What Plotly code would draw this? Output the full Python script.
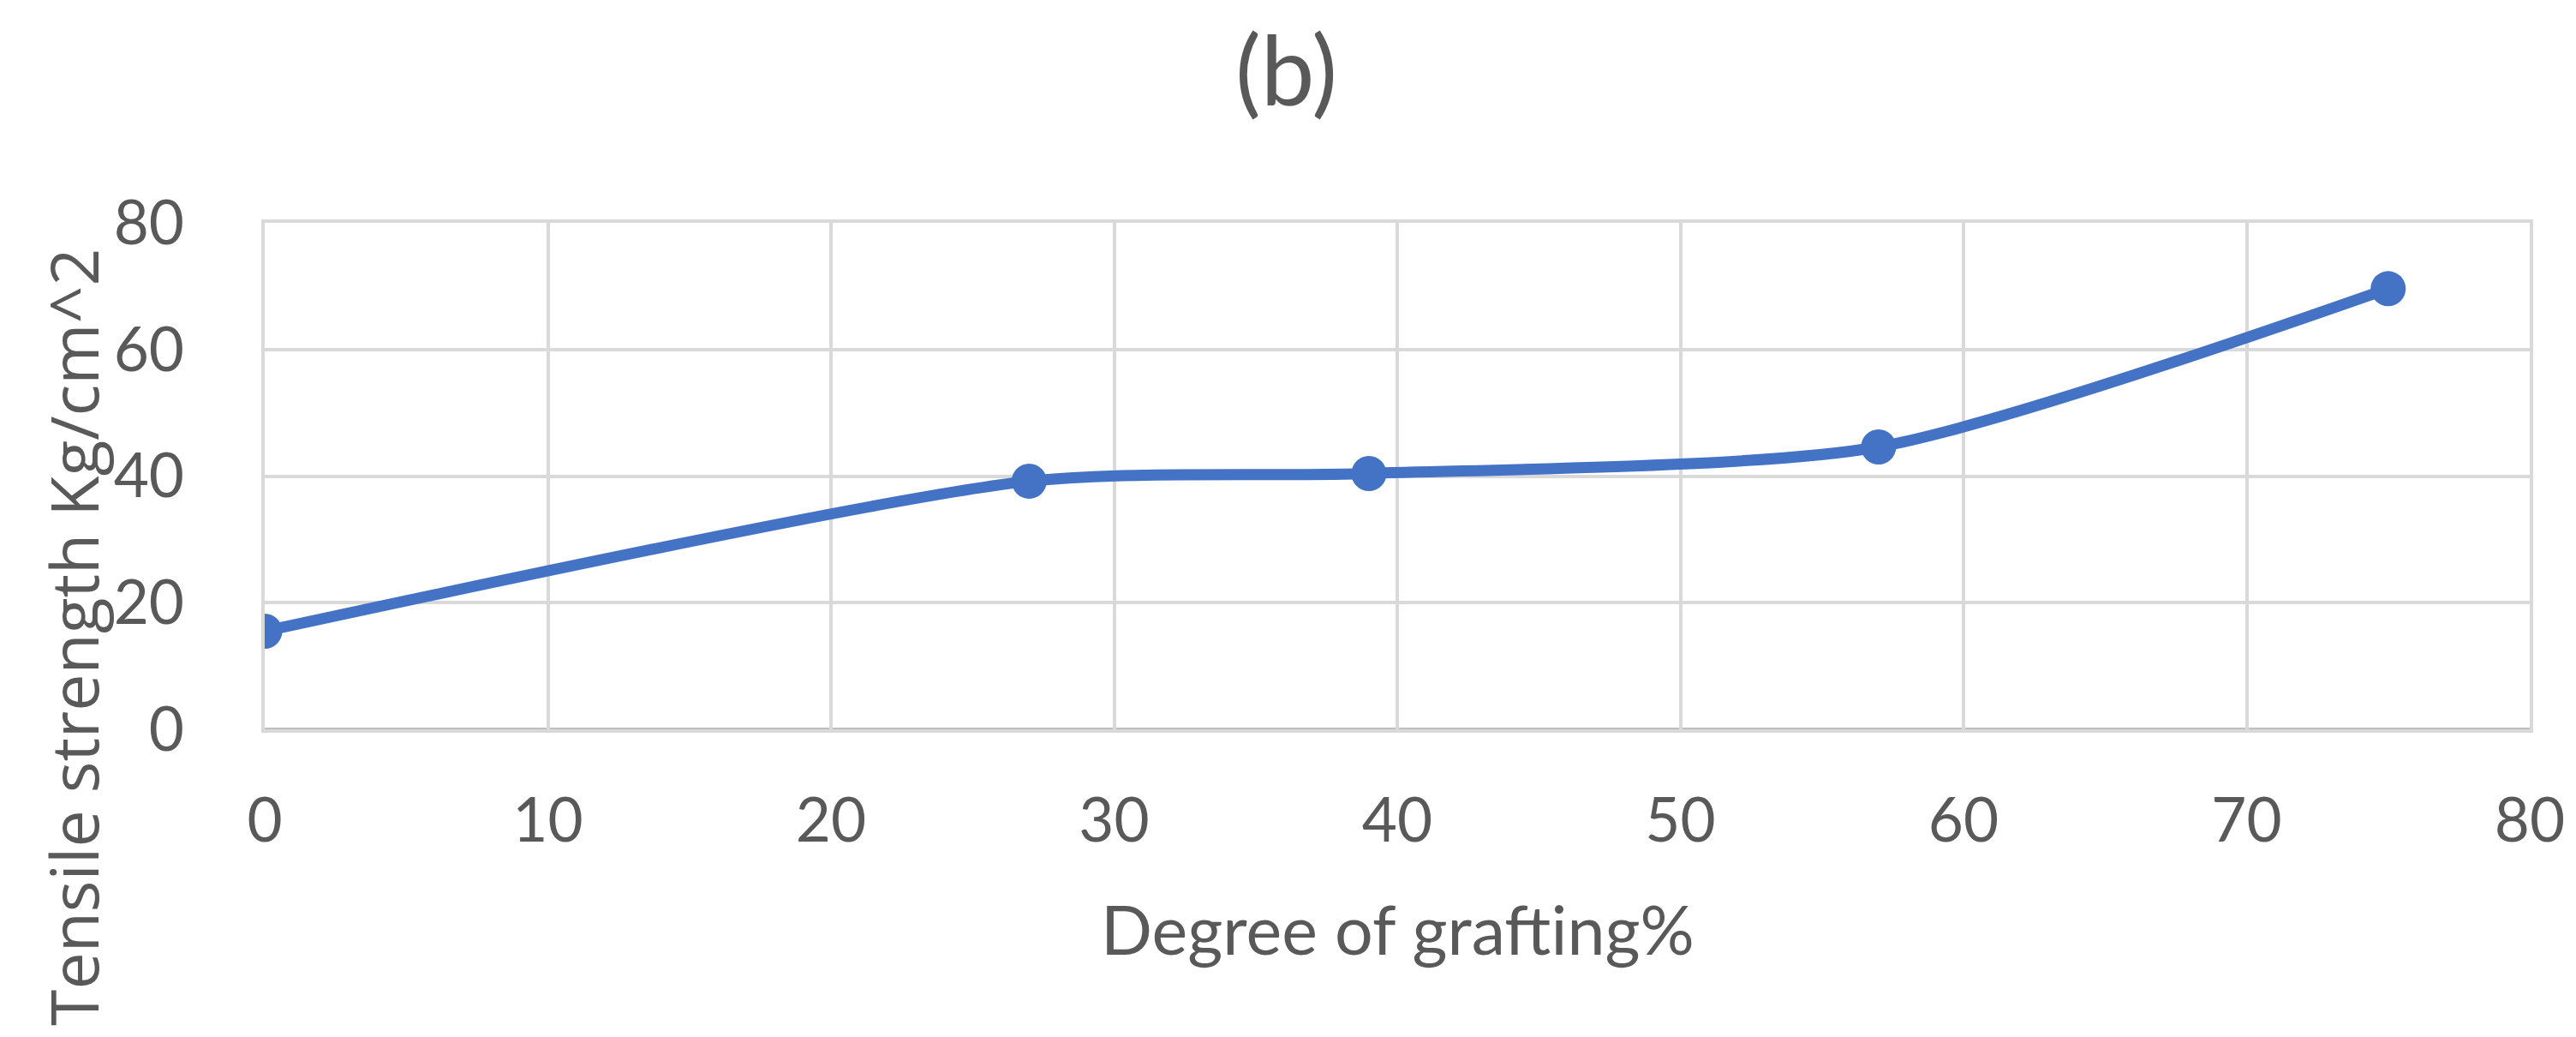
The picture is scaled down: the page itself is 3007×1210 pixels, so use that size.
import plotly.graph_objects as go

# data
grafting = [0, 27, 39, 57, 75]
tensile = [15.5, 39.2, 40.4, 44.6, 69.6]

x_ticks = [0, 10, 20, 30, 40, 50, 60, 70, 80]
y_ticks = [0, 20, 40, 60, 80]

W, H = 3007, 1210
L, R, T, B = 301, 62, 252, 367
plot_w = W - L - R
plot_h = H - T - B

blue = '#4472C4'
grey_text = '#595959'
grid = '#D9D9D9'

fig = go.Figure()
fig.add_trace(go.Scatter(x=grafting, y=tensile, mode='lines+markers',
                         line=dict(color=blue, width=13, shape='spline', smoothing=0.7),
                         marker=dict(color=blue, size=41),
                         showlegend=False))

fig.update_layout(
    width=W, height=H,
    margin=dict(l=L, r=R, t=T, b=B),
    paper_bgcolor='white', plot_bgcolor='white',
    title=dict(text='(b)', x=0.4967, xanchor='center', y=1 - 76 / H, yanchor='middle',
               yref='container', font=dict(family='Lato', size=112, color=grey_text)),
)

# plot frame: grid-coloured box, slightly darker bottom axis
fig.update_xaxes(range=[0, 80], tickvals=x_ticks, showgrid=True, gridcolor=grid, gridwidth=3.5,
                 zeroline=False, showline=True, mirror=True, linecolor=grid, linewidth=3.5,
                 ticks='', ticklabelstandoff=42,
                 tickfont=dict(family='Lato', size=71, color=grey_text))
fig.update_yaxes(range=[0, 80], tickvals=y_ticks, showgrid=True, gridcolor=grid, gridwidth=3.5,
                 zeroline=False, showline=True, mirror=True, linecolor=grid, linewidth=3.5,
                 ticks='', ticklabelstandoff=76,
                 tickfont=dict(family='Lato', size=71, color=grey_text))
fig.add_shape(type='line', xref='x domain', yref='y domain', x0=0, x1=1, y0=0, y1=0,
              line=dict(color='#BFBFBF', width=4), layer='below')

# axis titles
fig.add_annotation(text='Degree of grafting%', xref='paper', yref='paper',
                   x=0.5, y=(H - B - 1075) / plot_h, xanchor='center', yanchor='middle',
                   showarrow=False, font=dict(family='Lato', size=79, color=grey_text))
fig.add_annotation(text='Tensile strength Kg/cm^2', xref='paper', yref='paper',
                   x=(77 - L) / plot_w, y=(H - B - 735) / plot_h, xanchor='center', yanchor='middle',
                   textangle=-90, showarrow=False,
                   font=dict(family='Open Sans', size=77, color=grey_text))

fig.write_html('out.html')
